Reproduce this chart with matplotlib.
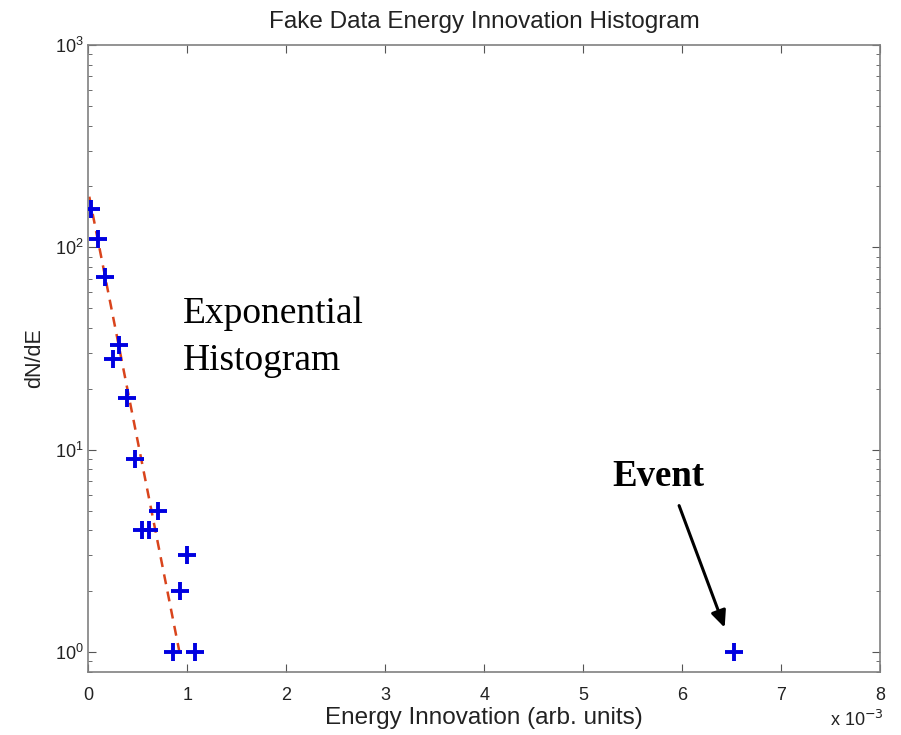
import matplotlib
matplotlib.use("Agg")
import matplotlib.pyplot as plt
from matplotlib.ticker import LogLocator, NullFormatter, FixedLocator

# Data (energy in units of 1e-3)
energy_e3 = [0.024, 0.10, 0.17, 0.248, 0.315, 0.396, 0.475, 0.545, 0.61, 0.70,
             0.86, 0.925, 1.0, 1.08, 6.52]
counts = [154, 110, 71, 28, 33, 18, 9, 4, 4, 5, 1, 2, 3, 1, 1]

fit_x = [0.01, 0.93]
fit_y = [178, 0.95]

x_ticks = [0, 1, 2, 3, 4, 5, 6, 7, 8]
x_tick_labels = ["0", "1", "2", "3", "4", "5", "6", "7", "8"]

plt.rcParams['font.family'] = ['Liberation Sans', 'DejaVu Sans']

fig = plt.figure(figsize=(9.01, 7.35), dpi=100)
ax = fig.add_axes([0.098, 0.0857, 0.8787, 0.853])

ax.plot(fit_x, fit_y, linestyle=(0, (4, 3)), color='#d9441c', linewidth=1.8, zorder=2)
ax.plot(energy_e3, counts, linestyle='none', marker='+', color='#0000e0',
        markersize=13, markeredgewidth=2.8, zorder=3)

ax.set_yscale('log')
ax.set_xlim(0, 8)
ax.set_ylim(0.796, 1000)
ax.set_xticks(x_ticks)
ax.set_xticklabels(x_tick_labels)
ax.yaxis.set_major_locator(FixedLocator([1, 10, 100, 1000]))
ax.yaxis.set_minor_locator(LogLocator(base=10, subs=range(2, 10), numticks=20))
ax.yaxis.set_minor_formatter(NullFormatter())

for s in ax.spines.values():
    s.set_color('#808080')
    s.set_linewidth(1.2)

ax.tick_params(axis='both', which='both', direction='in', top=True, right=True,
               colors='#555555', labelcolor='#222222', labelsize=13)
ax.tick_params(axis='both', which='major', length=6)
ax.tick_params(axis='y', which='minor', length=3)
ax.tick_params(axis='x', which='major', pad=11)

ax.set_title("Fake Data Energy Innovation Histogram", fontsize=17.5, color='#222222', pad=12)
ax.set_xlabel("Energy Innovation (arb. units)", fontsize=17.5, color='#222222', labelpad=2)
ax.set_ylabel("dN/dE", fontsize=15.5, color='#222222', labelpad=7)

fig.text(0.921, 0.012, r"x 10$^{-3}$", fontsize=13, color='#222222')

ax.text(0.96, 57, "Exponential\nHistogram", family=['Liberation Serif', 'DejaVu Serif'],
        fontsize=27, va='top', ha='left', linespacing=1.45, color='black')
ax.text(5.76, 7.4, "Event", family=['Liberation Serif', 'DejaVu Serif'],
        fontsize=26.5, fontweight='bold', ha='center', va='center', color='black')
ax.annotate("", xy=(6.44, 1.28), xytext=(5.96, 5.45),
            arrowprops=dict(arrowstyle='-|>,head_length=1.0,head_width=0.45',
                            color='black', lw=2.2))

fig.savefig("out.png", dpi=100)
